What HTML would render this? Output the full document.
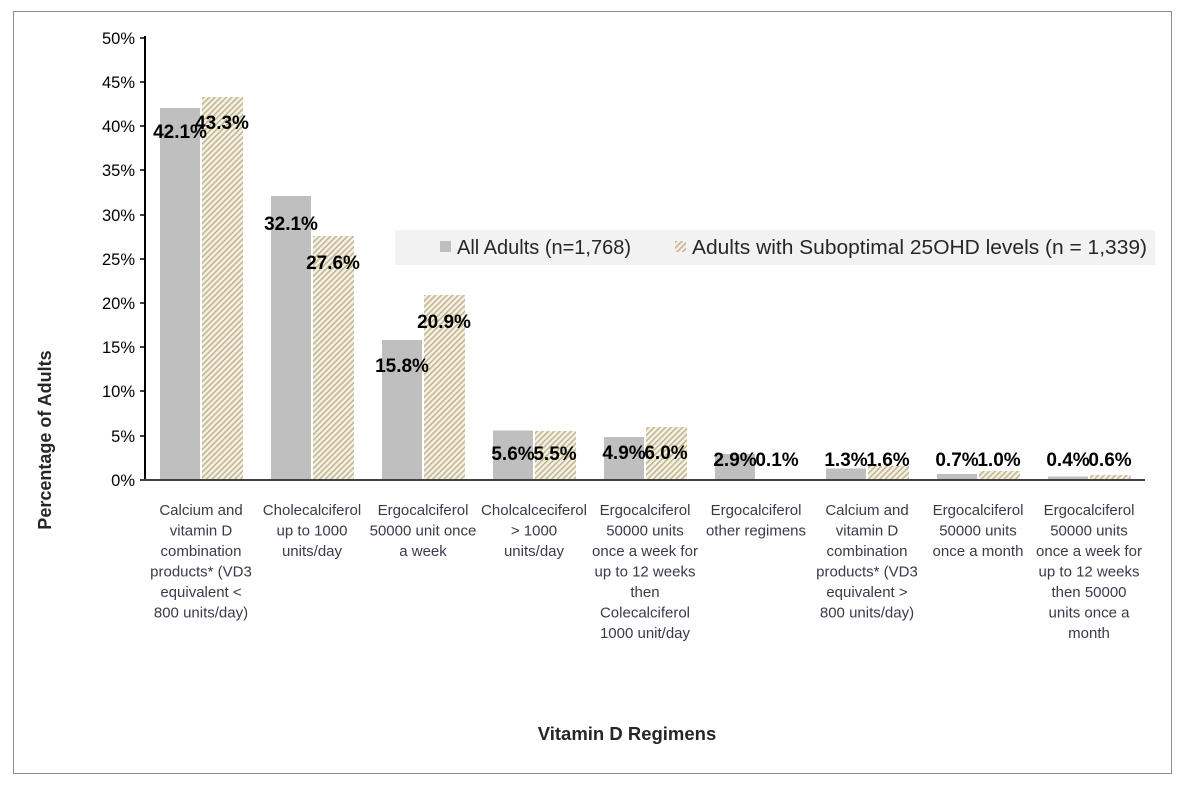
<!DOCTYPE html>
<html><head><meta charset="utf-8"><style>
body{margin:0;background:#fff;}
text{font-family:"Liberation Sans",sans-serif;}
</style></head><body>
<svg width="1186" height="787" xmlns="http://www.w3.org/2000/svg">
<defs>
<pattern id="h" width="4" height="4" patternUnits="userSpaceOnUse" patternTransform="rotate(45)">
<rect width="4" height="4" fill="#f4f1e8"/>
<rect width="1.6" height="4" fill="#c4b68c"/>
</pattern>
</defs>
<rect x="13.5" y="11.5" width="1158" height="762" fill="#fff" stroke="#8c8c8c"/>
<g font-size="16.5" fill="#000" text-anchor="end">
<text x="135" y="44">50%</text><text x="135" y="88">45%</text><text x="135" y="132">40%</text>
<text x="135" y="176">35%</text><text x="135" y="221">30%</text><text x="135" y="265">25%</text>
<text x="135" y="309">20%</text><text x="135" y="353">15%</text><text x="135" y="397">10%</text>
<text x="135" y="442">5%</text><text x="135" y="486">0%</text>
</g>
<g stroke="#000" stroke-width="1.5">
<line x1="140" y1="38" x2="145" y2="38"/><line x1="140" y1="82" x2="145" y2="82"/><line x1="140" y1="126" x2="145" y2="126"/>
<line x1="140" y1="170" x2="145" y2="170"/><line x1="140" y1="215" x2="145" y2="215"/><line x1="140" y1="259" x2="145" y2="259"/>
<line x1="140" y1="303" x2="145" y2="303"/><line x1="140" y1="347" x2="145" y2="347"/><line x1="140" y1="391" x2="145" y2="391"/>
<line x1="140" y1="436" x2="145" y2="436"/>
</g>
<g fill="#bfbfbf">
<rect x="160" y="108" width="40" height="372"/>
<rect x="271" y="196" width="40" height="284"/>
<rect x="382" y="340" width="40" height="140"/>
<rect x="493" y="430.5" width="40" height="49.5"/>
<rect x="604" y="437" width="40" height="43"/>
<rect x="715" y="454" width="40" height="26"/>
<rect x="826" y="468.5" width="40" height="11.5"/>
<rect x="937" y="474" width="40" height="6"/>
<rect x="1048" y="476.5" width="40" height="3.5"/>
</g>
<g fill="url(#h)">
<rect x="202" y="97" width="41" height="383"/>
<rect x="313" y="236" width="41" height="244"/>
<rect x="424" y="295" width="41" height="185"/>
<rect x="535" y="431" width="41" height="49"/>
<rect x="646" y="427" width="41" height="53"/>
<rect x="757" y="479" width="41" height="1"/>
<rect x="868" y="466" width="41" height="14"/>
<rect x="979" y="471" width="41" height="9"/>
<rect x="1090" y="475" width="41" height="5"/>
</g>
<line x1="145" y1="36" x2="145" y2="481" stroke="#000" stroke-width="2"/>
<line x1="140" y1="480" x2="1145" y2="480" stroke="#404040" stroke-width="2"/>
<rect x="395" y="230" width="760" height="35" fill="#f2f2f2"/>
<rect x="440" y="241" width="11" height="11" fill="#bfbfbf"/>
<rect x="675" y="241" width="11" height="11" fill="url(#h)"/>
<g font-size="20" fill="#262626">
<text x="457" y="254" textLength="174" lengthAdjust="spacingAndGlyphs">All Adults (n=1,768)</text>
<text x="692" y="254" textLength="455" lengthAdjust="spacingAndGlyphs">Adults with Suboptimal 25OHD levels (n = 1,339)</text>
</g>
<g font-size="19" font-weight="bold" fill="#000" text-anchor="middle">
<text x="180" y="138">42.1%</text><text x="222" y="129">43.3%</text>
<text x="291" y="230">32.1%</text><text x="333" y="269">27.6%</text>
<text x="402" y="372">15.8%</text><text x="444" y="328">20.9%</text>
<text x="513" y="460">5.6%</text><text x="555" y="460">5.5%</text>
<text x="624" y="459">4.9%</text><text x="666" y="459">6.0%</text>
<text x="735" y="466">2.9%</text><text x="777" y="466">0.1%</text>
<text x="846" y="466">1.3%</text><text x="888" y="466">1.6%</text>
<text x="957" y="466">0.7%</text><text x="999" y="466">1.0%</text>
<text x="1068" y="466">0.4%</text><text x="1110" y="466">0.6%</text>
</g>
<g font-size="15" fill="#3a3a4a" text-anchor="middle">
<text x="201" y="515">Calcium and</text><text x="201" y="535.5">vitamin D</text><text x="201" y="556">combination</text><text x="201" y="576.5">products* (VD3</text><text x="201" y="597">equivalent  &lt;</text><text x="201" y="617.5">800 units/day)</text>
<text x="312" y="515">Cholecalciferol</text><text x="312" y="535.5">up to 1000</text><text x="312" y="556">units/day</text>
<text x="423" y="515">Ergocalciferol</text><text x="423" y="535.5">50000 unit once</text><text x="423" y="556">a week</text>
<text x="534" y="515">Cholcalceciferol</text><text x="534" y="535.5">&gt; 1000</text><text x="534" y="556">units/day</text>
<text x="645" y="515">Ergocalciferol</text><text x="645" y="535.5">50000 units</text><text x="645" y="556">once a week for</text><text x="645" y="576.5">up to 12 weeks</text><text x="645" y="597">then</text><text x="645" y="617.5">Colecalciferol</text><text x="645" y="638">1000 unit/day</text>
<text x="756" y="515">Ergocalciferol</text><text x="756" y="535.5">other regimens</text>
<text x="867" y="515">Calcium and</text><text x="867" y="535.5">vitamin D</text><text x="867" y="556">combination</text><text x="867" y="576.5">products* (VD3</text><text x="867" y="597">equivalent &gt;</text><text x="867" y="617.5">800 units/day)</text>
<text x="978" y="515">Ergocalciferol</text><text x="978" y="535.5">50000 units</text><text x="978" y="556">once a month</text>
<text x="1089" y="515">Ergocalciferol</text><text x="1089" y="535.5">50000 units</text><text x="1089" y="556">once a week for</text><text x="1089" y="576.5">up to 12 weeks</text><text x="1089" y="597">then 50000</text><text x="1089" y="617.5">units once a</text><text x="1089" y="638">month</text>
</g>
<text x="627" y="740" font-size="18.5" font-weight="bold" fill="#262626" text-anchor="middle">Vitamin D Regimens</text>
<text transform="translate(51,440) rotate(-90)" font-size="18" font-weight="bold" fill="#262626" text-anchor="middle">Percentage of Adults</text>
</svg>
</body></html>
